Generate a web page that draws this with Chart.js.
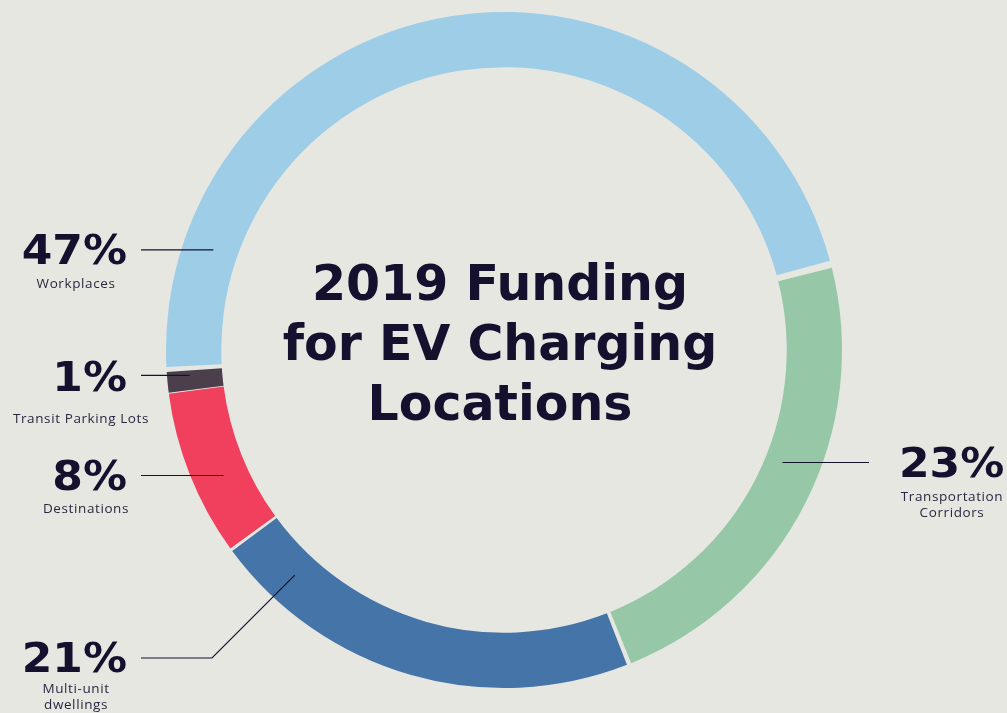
<!DOCTYPE html>
<html>
<head>
<meta charset="utf-8">
<script src="https://cdn.jsdelivr.net/npm/chart.js@4.4.1/dist/chart.umd.min.js"></script>
<style>
  html, body { margin: 0; padding: 0; background: #e7e7e1; }
  #wrap { width: 1007px; height: 713px; position: relative; }
</style>
</head>
<body>
<div id="wrap"><canvas id="c" width="1007" height="713"></canvas></div>
<script>
// ---- data ----
const categories = ["Transportation Corridors", "Multi-unit dwellings", "Destinations", "Transit Parking Lots", "Workplaces"];
const values = [23, 21, 8, 1, 47];
const sliceColors = ["#96c8a8", "#4574a8", "#f0405e", "#4a3f4a", "#9ecde7"];
const labelLines = [["Transportation", "Corridors"], ["Multi-unit", "dwellings"], ["Destinations"], ["Transit Parking Lots"], ["Workplaces"]];
const titleLines = ["2019 Funding", "for EV Charging", "Locations"];

const BG = "#e7e7e1";
const INK = "#15102e";

// annotation layout (positions only)
const callouts = [
  { angle: 112,   side: "right", lineX: 869, textX: 952, pctDy: 4, subY: [497, 513], rOff: -7 },
  { angle: 222.9, side: "left",  lineX: 141, elbowX: 212, elbowY: 658, textX: 76, pctDy: 4, subY: [689, 705] },
  { angle: 245.9, side: "left",  lineX: 141, textX: 86, pctDy: 4, subY: [509] },
  { angle: 265.4, side: "left",  lineX: 141, textX: 81, pctDy: 5, subY: [419], rOff: 8 },
  { angle: 289,   side: "left",  lineX: 141, textX: 76, pctDy: 4, subY: [284] }
];

const bgPlugin = {
  id: "bg",
  beforeDraw(chart) {
    const ctx = chart.ctx;
    ctx.save();
    ctx.fillStyle = BG;
    ctx.fillRect(0, 0, chart.width, chart.height);
    ctx.restore();
  }
};

const annotPlugin = {
  id: "annot",
  afterDatasetsDraw(chart) {
    const ctx = chart.ctx;
    const meta = chart.getDatasetMeta(0);
    const arc0 = meta.data[0];
    const cx = arc0.x, cy = arc0.y;
    const rMid = (arc0.outerRadius + arc0.innerRadius) / 2;

    // title
    ctx.save();
    ctx.fillStyle = INK;
    ctx.textAlign = "center";
    ctx.textBaseline = "alphabetic";
    ctx.font = "bold 49px 'DejaVu Sans'";
    titleLines.forEach((t, i) => {
      ctx.fillText(t, cx - 4, cy - 50 + i * 60);
    });

    callouts.forEach((c, i) => {
      const r = rMid + (c.rOff || 0);
      const th = c.angle * Math.PI / 180;
      const px = cx + r * Math.sin(th);
      const py = cy - r * Math.cos(th);
      const lineY = c.elbowY !== undefined ? c.elbowY : py;

      ctx.strokeStyle = INK;
      ctx.lineWidth = 1.2;
      ctx.beginPath();
      ctx.moveTo(c.lineX, lineY);
      if (c.elbowX !== undefined) {
        ctx.lineTo(c.elbowX, lineY);
      }
      ctx.lineTo(px, py);
      ctx.stroke();

      // percentage (slightly extended face)
      const pct = values[i] + "%";
      ctx.save();
      ctx.font = "bold 40px 'DejaVu Sans'";
      ctx.textBaseline = "middle";
      const ax = c.side === "left" ? 127 : 899;
      ctx.translate(ax, lineY + c.pctDy);
      ctx.scale(1.1, 1);
      ctx.textAlign = c.side === "left" ? "right" : "left";
      ctx.fillText(pct, 0, 0);
      ctx.restore();

      // sub label
      ctx.save();
      ctx.font = "13.5px 'Open Sans'";
      ctx.letterSpacing = "0.6px";
      ctx.textAlign = "center";
      ctx.textBaseline = "middle";
      ctx.fillStyle = "#2a2740";
      labelLines[i].forEach((s, k) => {
        ctx.fillText(s, c.textX, c.subY[k]);
      });
      ctx.restore();
    });
    ctx.restore();
  }
};

new Chart(document.getElementById("c"), {
  type: "doughnut",
  data: {
    labels: categories,
    datasets: [{
      data: values,
      backgroundColor: sliceColors,
      borderWidth: 0,
      spacing: 6,
      hoverOffset: 0
    }]
  },
  options: {
    responsive: false,
    animation: false,
    rotation: 75.5,
    cutout: "83.5%",
    layout: { padding: { top: 12, bottom: 25, left: 1, right: 0 } },
    plugins: {
      legend: { display: false },
      tooltip: { enabled: false },
      title: { display: false }
    }
  },
  plugins: [bgPlugin, annotPlugin]
});
</script>
</body>
</html>
